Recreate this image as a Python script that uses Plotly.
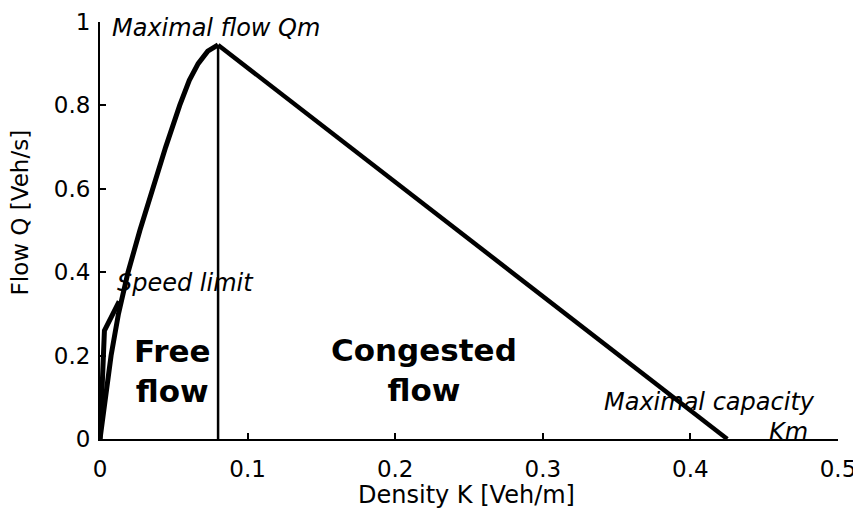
import plotly.graph_objects as go

# Fundamental diagram data
free_k = [0, 0.0035, 0.0075, 0.0125, 0.019, 0.027, 0.0355, 0.0445, 0.054, 0.0605, 0.0665, 0.073, 0.08]
free_q = [0, 0.10, 0.20, 0.30, 0.40, 0.50, 0.60, 0.70, 0.80, 0.86, 0.90, 0.93, 0.945]
cong_k = [0.08, 0.425]
cong_q = [0.945, 0]
speed_k = [0, 0.003, 0.013]
speed_q = [0, 0.26, 0.33]
crit_k = [0.08, 0.08]
crit_q = [0, 0.945]

x_ticks = [0, 0.1, 0.2, 0.3, 0.4, 0.5]
x_labels = ["0", "0.1", "0.2", "0.3", "0.4", "0.5"]
y_ticks = [0, 0.2, 0.4, 0.6, 0.8, 1]
y_labels = ["0", "0.2", "0.4", "0.6", "0.8", "1"]

FONT = "DejaVu Sans"

fig = go.Figure()
fig.add_trace(go.Scatter(x=free_k, y=free_q, mode="lines", line=dict(color="black", width=5),
                         hoverinfo="skip", showlegend=False))
fig.add_trace(go.Scatter(x=speed_k, y=speed_q, mode="lines", line=dict(color="black", width=5),
                         hoverinfo="skip", showlegend=False))
fig.add_trace(go.Scatter(x=cong_k, y=cong_q, mode="lines", line=dict(color="black", width=4.5),
                         hoverinfo="skip", showlegend=False))
fig.add_trace(go.Scatter(x=crit_k, y=crit_q, mode="lines", line=dict(color="black", width=2.5),
                         hoverinfo="skip", showlegend=False))

ann_it = dict(family=FONT, size=24, color="black", style="italic")
annotations = [
    dict(x=0.0068, y=0.986, text="Maximal flow Qm", xanchor="left", yanchor="middle", font=ann_it),
    dict(x=0.0102, y=0.374, text="Speed limit", xanchor="left", yanchor="middle", font=ann_it),
    dict(x=0.486, y=0.089, text="Maximal capacity", xanchor="right", yanchor="middle", font=ann_it),
    dict(x=0.481, y=0.016, text="Km", xanchor="right", yanchor="middle", font=ann_it),
    dict(x=0.0488, y=0.163, text="<b>Free<br>flow</b>", xanchor="center", yanchor="middle",
         font=dict(family=FONT, size=31, color="black")),
    dict(x=0.2195, y=0.165, text="<b>Congested<br>flow</b>", xanchor="center", yanchor="middle",
         font=dict(family=FONT, size=31, color="black")),
    dict(xref="paper", yref="paper", x=0.497, y=-0.134, text="Density K [Veh/m]", showarrow=False,
         xanchor="center", yanchor="middle", font=dict(family=FONT, size=24, color="black")),
    dict(xref="paper", yref="paper", x=-0.108, y=0.544, text="Flow Q [Veh/s]", showarrow=False, textangle=-90,
         xanchor="center", yanchor="middle", font=dict(family=FONT, size=23, color="black")),
]
for a in annotations:
    a.setdefault("showarrow", False)
    a.setdefault("xref", "x")
    a.setdefault("yref", "y")

# page body has an 8px margin, so the figure is 8px smaller and margins shifted
fig.update_layout(
    width=853, height=508,
    margin=dict(l=92, r=23, t=14, b=77, autoexpand=False),
    paper_bgcolor="white", plot_bgcolor="white",
    annotations=annotations,
    font=dict(family=FONT, size=22, color="black"),
)
fig.update_xaxes(range=[0, 0.5], tickvals=x_ticks, ticktext=x_labels, showgrid=False, zeroline=False,
                 automargin=False,
                 showline=True, linecolor="black", linewidth=2, ticks="inside", ticklen=6, tickwidth=2,
                 tickcolor="black", ticklabelstandoff=8, tickfont=dict(family=FONT, size=23, color="black"))
fig.update_yaxes(range=[0, 1], tickvals=y_ticks, ticktext=y_labels, showgrid=False, zeroline=False,
                 automargin=False,
                 showline=True, linecolor="black", linewidth=2, ticks="inside", ticklen=6, tickwidth=2,
                 tickcolor="black", ticklabelstandoff=3, tickfont=dict(family=FONT, size=23, color="black"))

fig.write_html("out.html")
